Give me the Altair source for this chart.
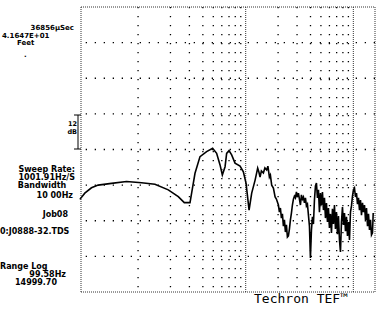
import altair as alt
import pandas as pd

# ---- data ----
freq_hz = [28.8, 32.0, 36.9, 42.6, 56.6, 78.1, 107.7, 143.5, 190.9, 236.4, 268.9, 303.8,
           314.5, 338.1, 376.3, 433.5, 492.8, 537.0, 577.7, 606.7, 643.1, 665.3, 700.3,
           740.4, 796.2, 886.4, 951.3, 1008, 1075, 1137, 1223, 1292, 1326, 1360, 1399,
           1460, 1508, 1567, 1608, 1661, 1696, 1744, 1809, 1876, 1929, 2013,
           2057, 2101, 2147, 2193, 2241, 2289, 2339, 2390, 2441, 2494, 2548, 2603, 2660,
           2717, 2776, 2836, 2898, 2960, 3024, 3090, 3157, 3225, 3295, 3366, 3439, 3514,
           3590, 3667, 3747, 3828, 3911, 3995, 4082, 4170, 4260, 4353, 4447, 4543, 4642,
           4742, 4845, 4950, 5057, 5166, 5278, 5392, 5509, 5628, 5750, 5874, 6001, 6131,
           6264, 6400, 6538, 6680, 6824, 6972, 7123, 7277, 7435, 7596, 7760, 7928, 8100,
           8275, 8454, 8637, 8824, 9015, 9210, 9409, 9613, 9821, 10034, 10251, 10473,
           10700, 10931, 11168, 11410, 11657, 11909, 12167, 12430, 12699, 12974, 13255,
           13542, 13835, 14135, 14441, 14753, 15073, 15300]
level_db = [-64.8, -62.7, -60.9, -60.0, -59.4, -58.8, -59.2, -59.7, -61.6, -63.9, -65.9, -65.9,
            -62.7, -56.0, -50.4, -48.7, -47.6, -49.3, -53.2, -56.6, -53.8, -49.3, -48.4,
            -49.8, -52.6, -53.6, -55.5, -59.4, -68.4, -62.7, -58.3, -54.3, -55.6, -57.3, -55.2,
            -55.9, -54.2, -54.9, -53.6, -57.3, -56.6, -60.0, -61.0, -64.0, -64.7, -66.7,
            -69.1, -67.7, -71.1, -69.7, -73.8, -71.7, -75.8, -73.4, -77.5, -77.1, -74.8, -71.7, -69.4,
            -66.7, -64.7, -63.7, -64.3, -62.3, -64.0, -62.7, -64.7, -66.7, -63.3, -64.7, -64.0, -66.0,
            -64.3, -67.0, -66.4, -70.1, -73.8, -84.5, -75.1, -70.7, -73.1, -65.0, -60.3, -59.3, -64.3,
            -61.6, -69.1, -62.7, -66.7, -62.3, -68.4, -64.3, -71.1, -66.0, -72.4, -67.7, -74.4, -69.7,
            -76.1, -68.0, -73.1, -66.7, -74.8, -69.1, -76.5, -70.4, -78.5, -82.5, -72.4, -67.4, -73.4,
            -69.4, -75.5, -70.7, -77.1, -72.4, -78.5, -69.1, -67.0, -63.7, -61.6, -61.0, -64.0,
            -62.7, -66.4, -64.3, -68.4, -65.0, -70.1, -66.0, -69.1, -66.7, -71.7, -67.7,
            -73.8, -69.7, -75.1, -71.7, -76.8, -76.1, -69.4]

grid_db = [-12, -24, -36, -48, -60, -72, -84]
minor_freq = [100, 200, 300, 400, 500, 600, 700, 800, 900,
              2000, 3000, 4000, 5000, 6000, 7000, 8000, 9000]
major_freq = [1000, 10000]

# ---- scales ----
W, H = 294, 285
L, T = 81, 7
xs = alt.Scale(type="log", domain=[29.5, 15900], nice=False)
ys = alt.Scale(domain=[-96, 0], nice=False, zero=False)

curve_df = pd.DataFrame({"f": freq_hz, "db": level_db})

grid_h = alt.Chart(pd.DataFrame({"db": grid_db})).mark_rule(
    color="black", strokeWidth=1.3, strokeDash=[1.3, 7.7]
).encode(y=alt.Y("db:Q", scale=ys, axis=None))

grid_v = alt.Chart(pd.DataFrame({"f": minor_freq})).mark_rule(
    color="black", strokeWidth=1.3, strokeDash=[1.3, 7.7]
).encode(x=alt.X("f:Q", scale=xs, axis=None))

grid_major = alt.Chart(pd.DataFrame({"f": major_freq})).mark_rule(
    color="#333333", strokeWidth=1, strokeDash=[1, 1]
).encode(x=alt.X("f:Q", scale=xs, axis=None))

border_style = dict(color="#333333", strokeWidth=1, strokeDash=[1, 1])
one = pd.DataFrame({"k": [0]})
borders = [
    alt.Chart(one).mark_rule(**border_style).encode(x=alt.value(0), y=alt.value(0), y2=alt.value(H)),
    alt.Chart(one).mark_rule(**border_style).encode(x=alt.value(W), y=alt.value(0), y2=alt.value(H)),
    alt.Chart(one).mark_rule(**border_style).encode(x=alt.value(0), x2=alt.value(W), y=alt.value(0)),
    alt.Chart(one).mark_rule(**border_style).encode(x=alt.value(0), x2=alt.value(W), y=alt.value(H)),
]

curve = alt.Chart(curve_df).mark_line(color="black", strokeWidth=1.6).encode(
    x=alt.X("f:Q", scale=xs, axis=None),
    y=alt.Y("db:Q", scale=ys, axis=None),
)

FONT = "DejaVu Sans"


def label(txt, ax, ay, align="left", size=8, weight="bold", font=FONT):
    return alt.Chart(pd.DataFrame({"t": [txt]})).mark_text(
        align=align, baseline="middle", font=font, fontSize=size, fontWeight=weight, color="black"
    ).encode(text="t:N", x=alt.value(ax - L), y=alt.value(ay - T))


texts = [
    label("36856µSec", 74, 27.5, align="right", size=7),
    label("4.1647E+01", 2, 35.5, size=7),
    label("Feet", 17, 43, size=7),
    label(".", 24, 55, size=7),
    label("12", 77, 124, align="right", size=6.5),
    label("dB", 77, 132, align="right", size=6.5),
    label("Sweep Rate:", 75, 170, align="right"),
    label("1001.91Hz/S", 75, 178, align="right"),
    label("Bandwidth", 42, 186, align="center"),
    label("10 00Hz", 73, 196, align="right"),
    label("Job08", 68, 215, align="right"),
    label("0:J0888-32.TDS", 0, 232),
    label("Range Log", 0, 267),
    label("99.58Hz", 66, 275, align="right"),
    label("14999.70", 15, 283),
    label("Techron TEF™", 301, 299, align="center", size=13, weight="normal", font="DejaVu Sans Mono"),
]

bracket_style = dict(color="black", strokeWidth=1)
bracket = [
    alt.Chart(one).mark_rule(**bracket_style).encode(x=alt.value(78 - L), y=alt.value(115 - T), y2=alt.value(149 - T)),
    alt.Chart(one).mark_rule(**bracket_style).encode(x=alt.value(74 - L), x2=alt.value(81 - L), y=alt.value(115 - T)),
    alt.Chart(one).mark_rule(**bracket_style).encode(x=alt.value(74 - L), x2=alt.value(81 - L), y=alt.value(149 - T)),
]

chart = alt.layer(grid_h, grid_v, grid_major, *borders, curve, *bracket, *texts).properties(
    width=W, height=H,
    padding={"left": L, "top": T, "right": 384 - L - W, "bottom": 310 - T - H},
    autosize=alt.AutoSizeParams(type="none"),
    background="white",
).configure_view(strokeWidth=0)

chart.save("out.html", embed_options={"renderer": "svg", "actions": False})
